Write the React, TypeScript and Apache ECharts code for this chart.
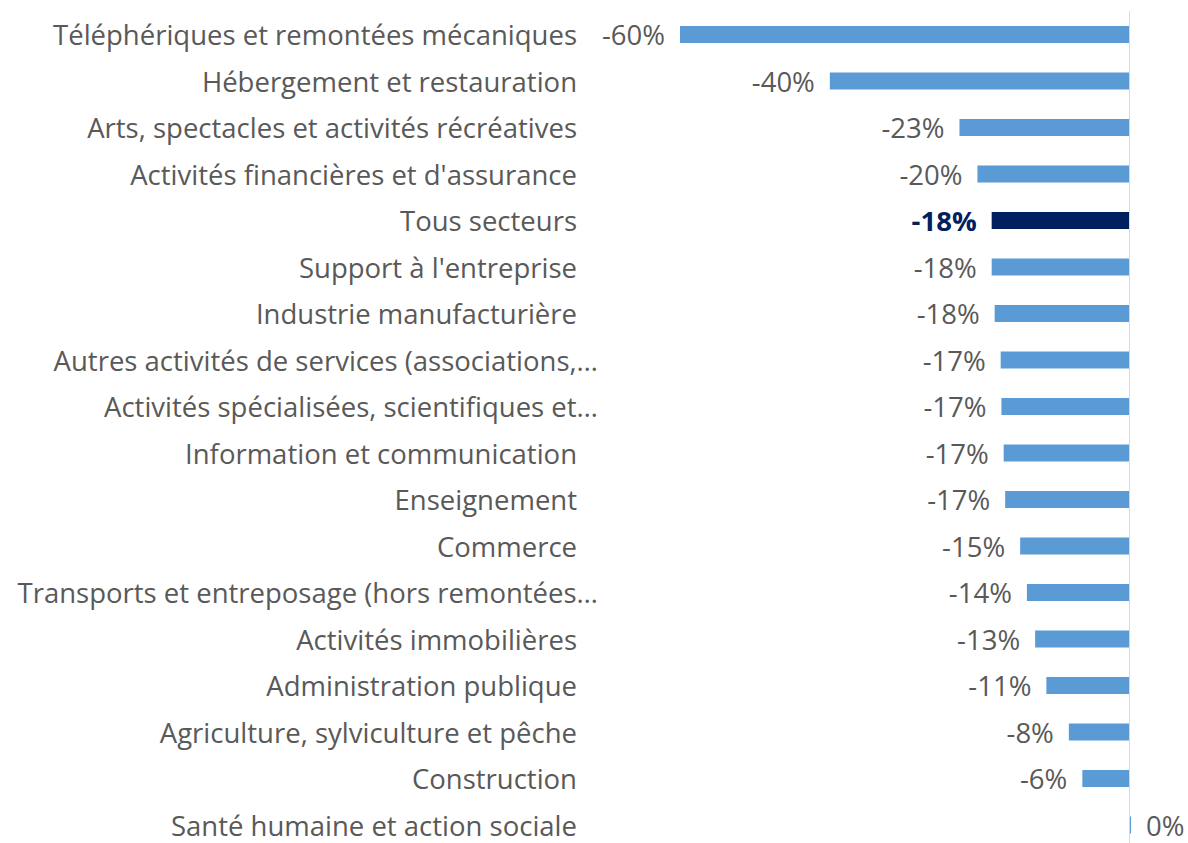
import React, { useEffect, useRef } from "react";
import * as echarts from "echarts";

const categories: string[] = [
  "Téléphériques et remontées mécaniques",
  "Hébergement et restauration",
  "Arts, spectacles et activités récréatives",
  "Activités financières et d'assurance",
  "Tous secteurs",
  "Support à l'entreprise",
  "Industrie manufacturière",
  "Autres activités de services (associations,…",
  "Activités spécialisées, scientifiques et…",
  "Information et communication",
  "Enseignement",
  "Commerce",
  "Transports et entreposage (hors remontées…",
  "Activités immobilières",
  "Administration publique",
  "Agriculture, sylviculture et pêche",
  "Construction",
  "Santé humaine et action sociale",
];

const values: number[] = [
  -60.0, -40.0, -22.7, -20.3, -18.4, -18.4, -18.0, -17.2, -17.1, -16.8, -16.6,
  -14.6, -13.7, -12.6, -11.1, -8.1, -6.3, 0.2,
];

const highlighted = "Tous secteurs";

const FONT = "Open Sans";
const FS = 27.5;
const LH = 24;

export default function App() {
  const ref = useRef<HTMLDivElement>(null);
  useEffect(() => {
    if (!ref.current) return;
    const chart = echarts.init(ref.current, undefined, { renderer: "svg" });
    const data = values.map((v, i) => {
      const isHi = categories[i] === highlighted;
      return {
        value: v,
        itemStyle: { color: isHi ? "#002060" : "#5B9BD5" },
        label: {
          show: true,
          position: v >= 0 ? "right" : "left",
          distance: 15,
          color: isHi ? "#002060" : "#595959",
          fontWeight: isHi ? "bold" : "normal",
          fontFamily: FONT,
          fontSize: FS,
          lineHeight: LH,
        },
      };
    });
    chart.setOption({
      animation: false,
      backgroundColor: "#ffffff",
      grid: { left: 680, right: 21, top: 11.25, bottom: 21.75, containLabel: false },
      xAxis: {
        type: "value",
        min: -60,
        max: 5,
        show: false,
        splitLine: { show: false },
      },
      yAxis: {
        type: "category",
        inverse: true,
        data: categories,
        axisLine: { show: false },
        axisTick: { show: false },
        splitLine: { show: false },
        axisLabel: {
          margin: 82,
          color: "#595959",
          fontFamily: FONT,
          fontSize: FS,
          lineHeight: LH,
          interval: 0,
          formatter: (s: string) => (s.endsWith("…") ? `{t|${s}}` : `{n|${s}}`),
          rich: {
            t: { color: "#595959", fontFamily: FONT, fontSize: FS, lineHeight: LH },
            n: {
              color: "#595959",
              fontFamily: FONT,
              fontSize: FS,
              lineHeight: LH,
              padding: [0, 21, 0, 0],
            },
          },
        },
      },
      series: [
        {
          type: "bar",
          data,
          barWidth: 17,
          label: {
            formatter: (p: any) => `${Math.round(p.value)}%`,
          },
          markLine: {
            silent: true,
            symbol: ["none", "none"],
            label: { show: false },
            lineStyle: { color: "#D9D9D9", type: "solid", width: 1 },
            data: [{ xAxis: 0 }],
          },
        },
      ],
    });
    return () => chart.dispose();
  }, []);
  return (
    <div
      ref={ref}
      style={{ position: "fixed", left: 0, top: 0, width: 1188, height: 870, background: "#fff" }}
    />
  );
}
